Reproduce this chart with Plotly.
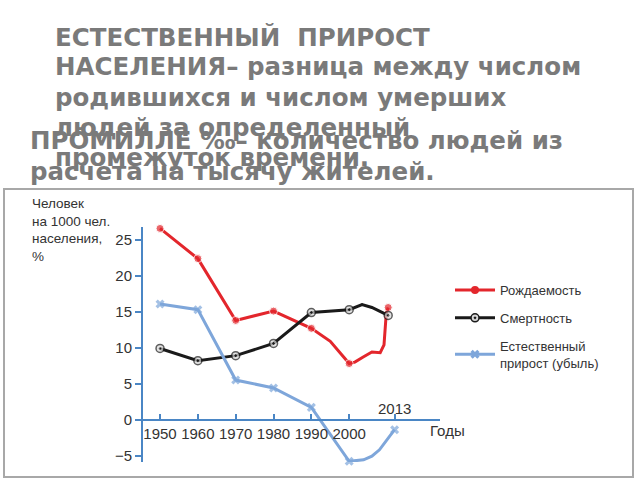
import plotly.graph_objects as go

# ---------------- data ----------------
years_birth = [1950, 1960, 1970, 1980, 1990, 1995, 2000, 2001.5, 2003.7, 2006, 2008.2, 2009.2, 2009.8, 2010.3]
birth = [26.6, 22.4, 13.8, 15.1, 12.7, 10.9, 7.8, 8.0, 8.7, 9.4, 9.3, 10.4, 14.8, 15.6]
birth_marked = [True, True, True, True, True, False, True, False, False, False, False, False, False, True]

years_death = [1950, 1960, 1970, 1980, 1990, 2000, 2003.4, 2006, 2010.3]
death = [9.9, 8.2, 8.9, 10.6, 14.9, 15.3, 16.0, 15.6, 14.5]
death_marked = [True, True, True, True, True, True, False, False, True]

years_growth = [1950, 1960, 1970, 1980, 1990, 2000, 2003.8, 2006, 2008, 2010, 2012]
growth = [16.1, 15.3, 5.5, 4.4, 1.7, -5.8, -5.6, -5.1, -4.2, -2.8, -1.4]
growth_marked = [True, True, True, True, True, True, False, False, False, False, True]

x_ticks = [1950, 1960, 1970, 1980, 1990, 2000, 2012]
x_ticktext = ["1950", "1960", "1970", "1980", "1990", "2000", ""]
y_ticks = [-5, 0, 5, 10, 15, 20, 25]
y_ticktext = ["\u22125", "0", "5", "10", "15", "20", "25"]

names = ["Рождаемость", "Смертность", "Естественный<br>прирост (убыль)"]

title_a = ["ЕСТЕСТВЕННЫЙ  ПРИРОСТ", "НАСЕЛЕНИЯ– разница между числом",
           "родившихся и числом умерших", "людей за определенный", "промежуток времени."]
title_b = ["ПРОМИЛЛЕ ‰– количество людей из", "расчета на тысячу жителей."]

# ---------------- layout geometry ----------------
W, H = 640, 480
L, R, T, B = 143, 200, 227, 18
PW, PH = W - L - R, H - T - B


def px(xp):
    return (xp - L) / PW


def py(yp):
    return (H - B - yp) / PH


AXIS = "#4a86c5"
RED = "#e3262c"
BLACK = "#1a1a1a"
BLUE = "#7ea6da"
TXT = "#333333"
GREY = "#7a7a7a"

styles = [
    dict(line=dict(color=RED, width=3), marker=dict(color=RED, symbol="circle")),
    dict(line=dict(color=BLACK, width=3),
         marker=dict(color="#d8d8d8", symbol="circle-dot", line=dict(color=BLACK, width=1.5))),
    dict(line=dict(color=BLUE, width=3), marker=dict(color=BLUE, symbol="x", line=dict(width=0))),
]
series = [(years_birth, birth, birth_marked), (years_death, death, death_marked),
          (years_growth, growth, growth_marked)]

fig = go.Figure()
for i, ((xs, ys, marked), st) in enumerate(zip(series, styles)):
    mk = dict(st["marker"])
    mk["size"] = [8 if m else 0 for m in marked]
    fig.add_trace(go.Scatter(x=xs, y=ys, mode="lines+markers", line=st["line"], marker=mk,
                             showlegend=False, cliponaxis=False, hoverinfo="x+y"))
for i, st in enumerate(styles):
    mk = dict(st["marker"])
    mk["size"] = 8
    fig.add_trace(go.Scatter(x=[None], y=[None], name=names[i], mode="lines+markers",
                             line=st["line"], marker=mk, legendgroup=str(i)))

annotations = []
for i, t in enumerate(title_a):
    annotations.append(dict(text=t, xref="paper", yref="paper", x=px(53), y=py(37 + 30 * i),
                            xanchor="left", yanchor="middle", showarrow=False,
                            font=dict(family="DejaVu Sans", size=24.5, color=GREY, weight="bold")))
for i, t in enumerate(title_b):
    annotations.append(dict(text=t, xref="paper", yref="paper", x=px(28), y=py(140 + 31 * i),
                            xanchor="left", yanchor="middle", showarrow=False,
                            font=dict(family="DejaVu Sans", size=24.5, color=GREY, weight="bold")))
annotations.append(dict(text="Человек<br>на 1000 чел.<br>населения,<br>%", xref="paper", yref="paper",
                        x=px(30), y=py(194), xanchor="left", yanchor="top", align="left",
                        showarrow=False,
                        font=dict(family="Liberation Sans", size=13.5, color=TXT)))
annotations.append(dict(text="Годы", xref="paper", yref="paper", x=px(428), y=py(430),
                        xanchor="left", yanchor="middle", showarrow=False,
                        font=dict(family="Liberation Sans", size=15, color=TXT)))
annotations.append(dict(text="2013", xref="x", yref="paper", x=x_ticks[-1], y=py(408),
                        xanchor="center", yanchor="middle", showarrow=False,
                        font=dict(family="Liberation Sans", size=15, color=TXT)))

y_range = [-5.9, 26.8]
x_range = [1945.5, 2024.0]

fig.update_layout(
    width=W, height=H,
    margin=dict(l=L, r=R, t=T, b=B, pad=0),
    paper_bgcolor="white", plot_bgcolor="white",
    showlegend=True,
    legend=dict(x=px(450), y=py(275), xanchor="left", yanchor="top",
                font=dict(family="Liberation Sans", size=13, color=TXT),
                traceorder="grouped", tracegroupgap=8, itemwidth=40,
                bgcolor="rgba(0,0,0,0)"),
    annotations=annotations,
    shapes=[dict(type="rect", xref="paper", yref="paper", x0=px(4), x1=px(633), y0=py(477), y1=py(189),
                 line=dict(color="#a8a8a8", width=2), layer="below")],
    xaxis=dict(range=x_range, tickvals=x_ticks, ticktext=x_ticktext, showgrid=False, zeroline=False,
               showline=True, linecolor=AXIS, linewidth=2, ticks="inside", ticklen=5, tickwidth=2,
               tickcolor=AXIS, anchor="free",
               position=(0 - y_range[0]) / (y_range[1] - y_range[0]),
               tickfont=dict(family="Liberation Sans", size=15, color=TXT)),
    yaxis=dict(range=y_range, tickvals=y_ticks, ticktext=y_ticktext, showgrid=False, zeroline=False,
               showline=True, linecolor=AXIS, linewidth=2, ticks="outside", ticklen=6, tickwidth=2,
               tickcolor=AXIS,
               tickfont=dict(family="Liberation Sans", size=15, color=TXT)),
)

fig.write_html("out.html")
